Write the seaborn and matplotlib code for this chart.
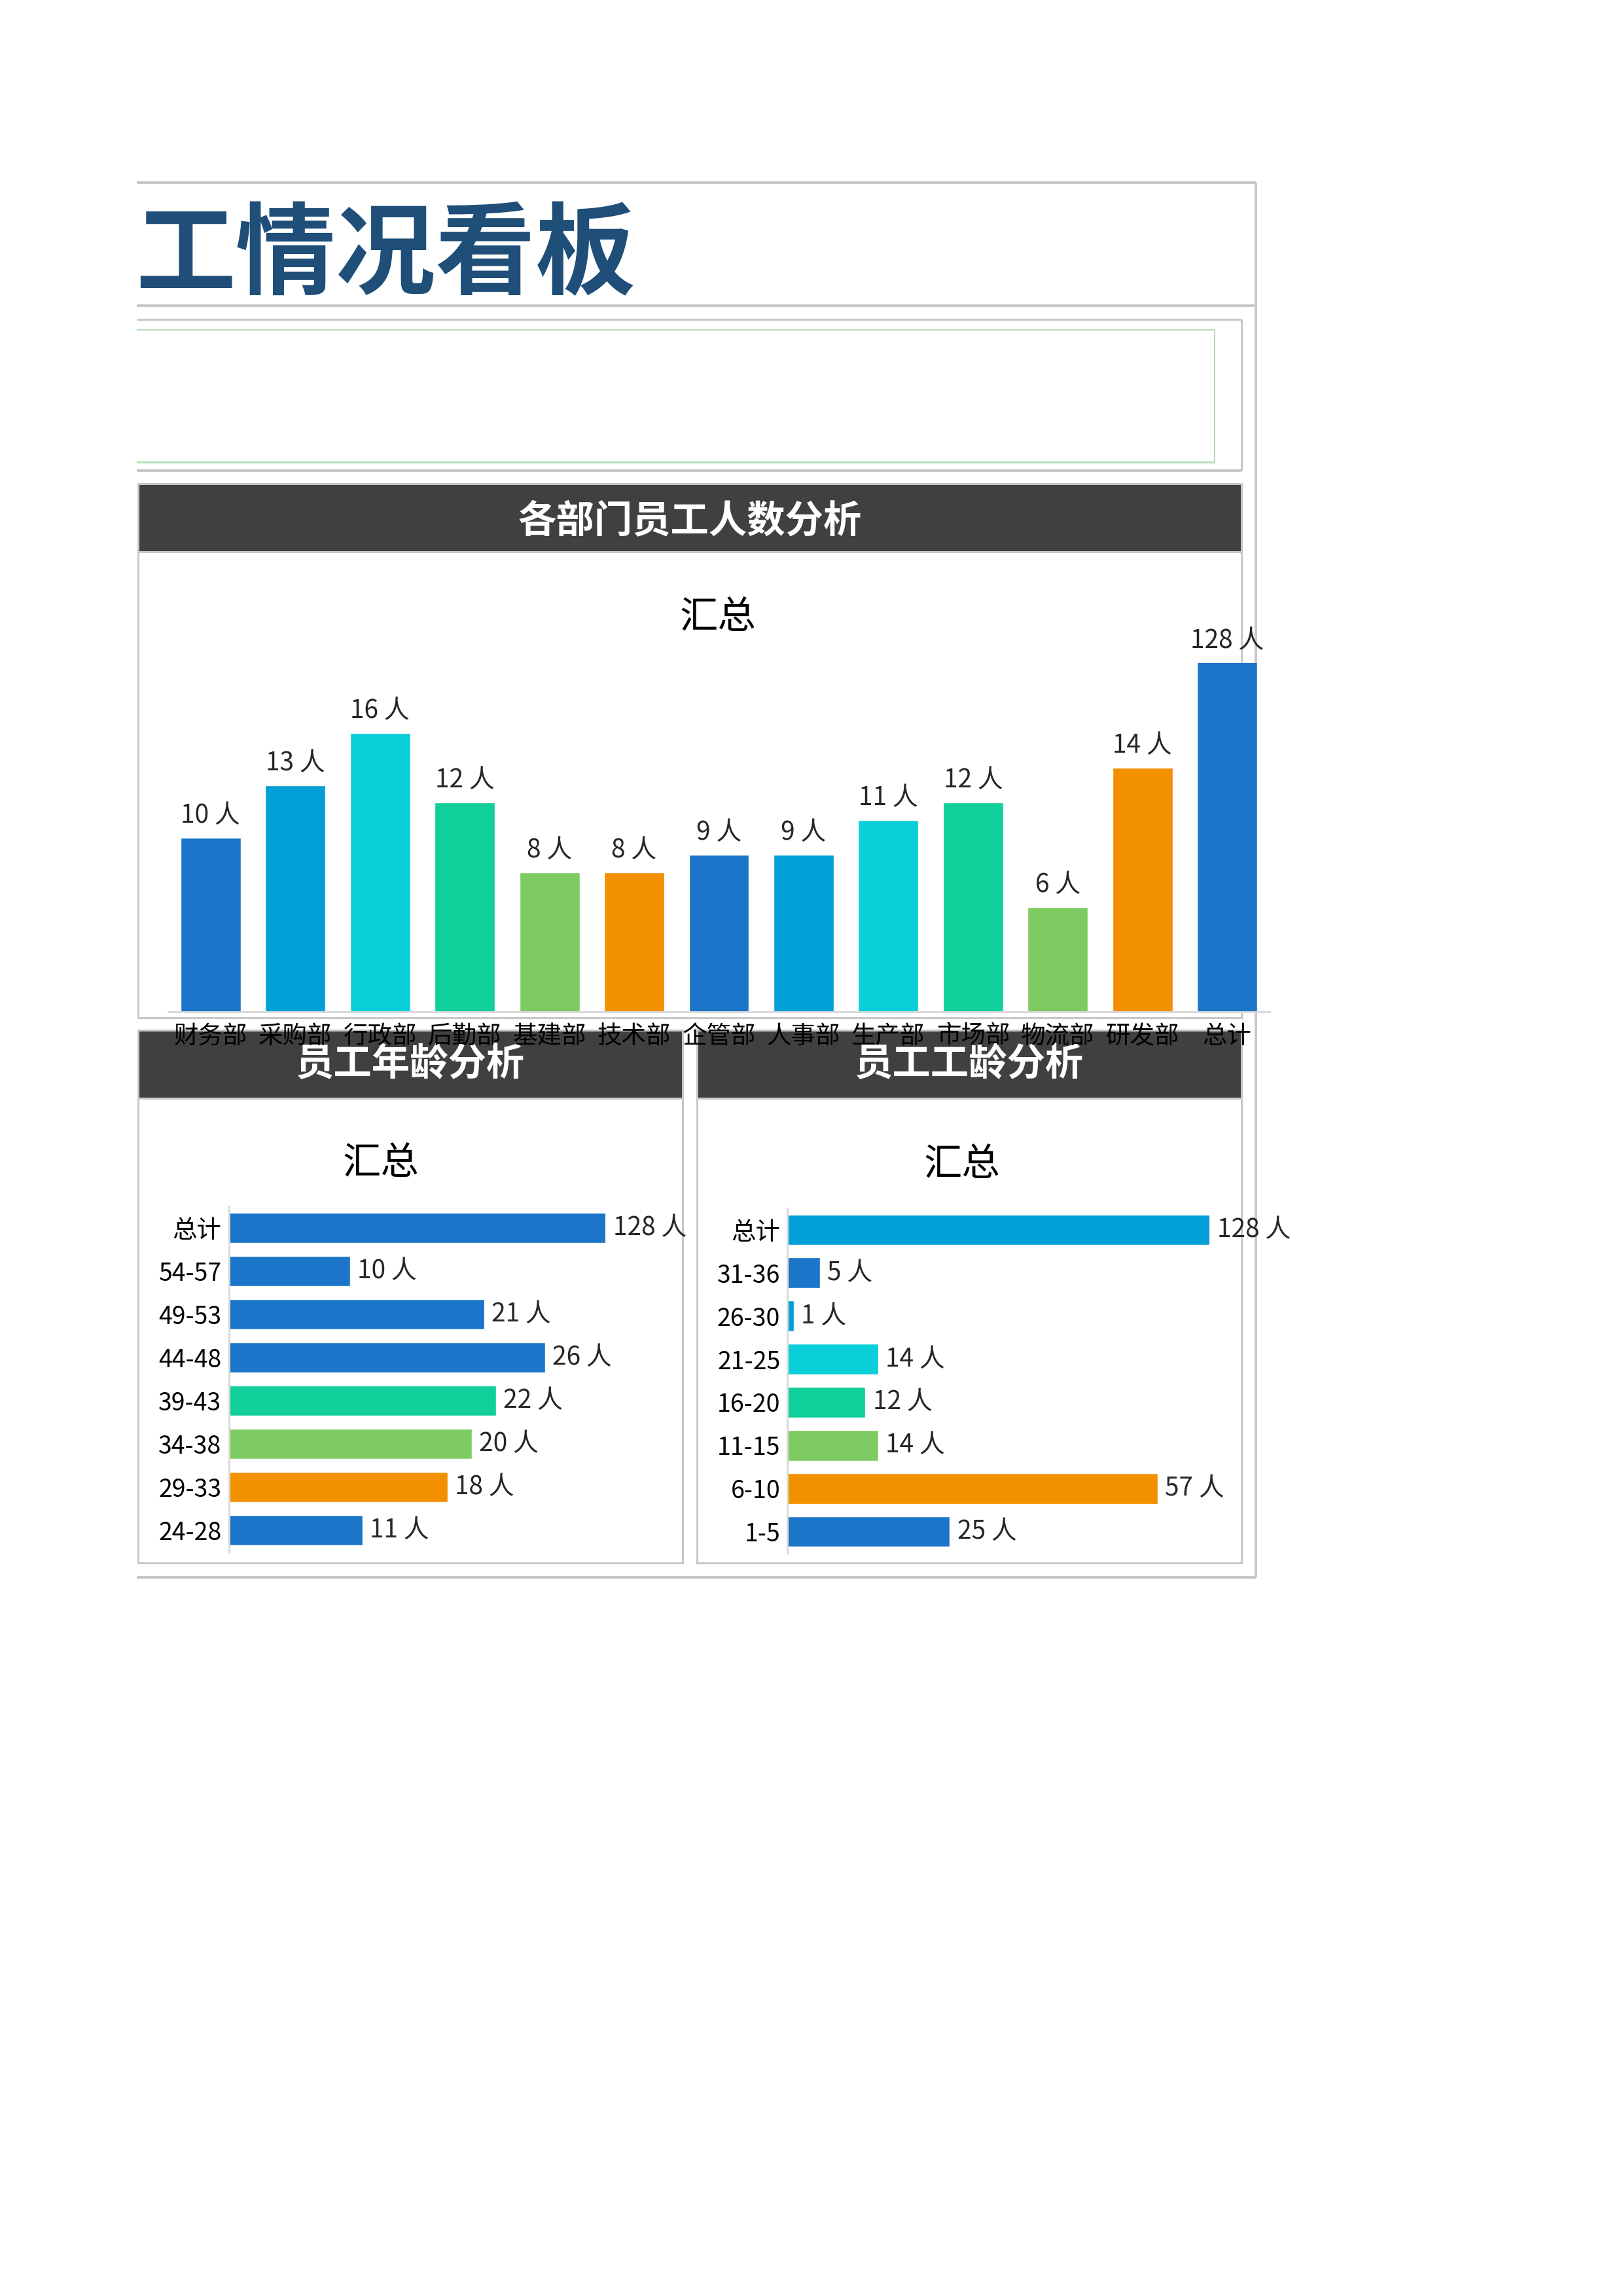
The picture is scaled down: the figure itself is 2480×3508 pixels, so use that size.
import matplotlib.pyplot as plt
import seaborn as sns
from matplotlib.patches import Rectangle

# data
dept_names = ["财务部", "采购部", "行政部", "后勤部", "基建部", "技术部", "企管部",
              "人事部", "生产部", "市场部", "物流部", "研发部", "总计"]
dept_counts = [10, 13, 16, 12, 8, 8, 9, 9, 11, 12, 6, 14, 128]

age_groups = ["总计", "54-57", "49-53", "44-48", "39-43", "34-38", "29-33", "24-28"]
age_counts = [128, 10, 21, 26, 22, 20, 18, 11]

tenure_groups = ["总计", "31-36", "26-30", "21-25", "16-20", "11-15", "6-10", "1-5"]
tenure_counts = [128, 5, 1, 14, 12, 14, 57, 25]

BLUE, SKY, CYAN, GREEN, LIME, ORANGE = "#1B75C9", "#029FD9", "#0BCFD8", "#10CF9B", "#7ECB62", "#F39000"
dept_colors = [BLUE, SKY, CYAN, GREEN, LIME, ORANGE, BLUE, SKY, CYAN, GREEN, LIME, ORANGE, BLUE]
age_colors = [BLUE, BLUE, BLUE, BLUE, GREEN, LIME, ORANGE, BLUE]
tenure_colors = [SKY, BLUE, SKY, CYAN, GREEN, LIME, ORANGE, BLUE]

sns.set_theme(style="white")
plt.rcParams['font.family'] = ['Noto Sans CJK SC', 'DejaVu Sans']

W, H = 2480, 3508
fig = plt.figure(figsize=(W / 100, H / 100), dpi=100)
bg = fig.add_axes([0, 0, 1, 1])
bg.set_xlim(0, W)
bg.set_ylim(H, 0)
bg.axis("off")

GRAY = "#C8C8C8"
DARK = "#404040"


def pt(v):
    return v * 0.72


def line(x0, y0, x1, y1, color=GRAY, w=4):
    bg.plot([x0, x1], [y0, y1], color=color, lw=pt(w), solid_capstyle="butt")


def box(x0, y0, x1, y1, fc="none", ec=GRAY, w=3):
    bg.add_patch(Rectangle((x0, y0), x1 - x0, y1 - y0, facecolor=fc, edgecolor=ec, lw=pt(w)))


def panel_ax(x0, y0, x1, y1):
    return fig.add_axes([x0 / W, 1 - y1 / H, (x1 - x0) / W, (y1 - y0) / H])


# frame and boxes
line(209, 279, 1919, 279)
line(1919, 279, 1919, 2410)
line(209, 2410, 1919, 2410)
line(209, 467, 1919, 467)
line(209, 488, 1897, 488, w=3)
line(1897, 488, 1897, 719, w=3)
line(209, 719, 1897, 719, w=4)
line(209, 504, 1856, 504, color="#B5DDB5", w=2)
line(1856, 504, 1856, 706, color="#B5DDB5", w=2)
line(209, 706, 1856, 706, color="#B5DDB5", w=3)

box(211, 739, 1897, 843, fc=DARK)
box(211, 843, 1897, 1555, fc="white")
box(211, 1574, 1043, 1678, fc=DARK)
box(1065, 1574, 1897, 1678, fc=DARK)
box(211, 1678, 1043, 2388, fc="white")
box(1065, 1678, 1897, 2388, fc="white")

bg.text(207, 392, "工情况看板", fontsize=110, fontweight="heavy", color="#1F4E79",
        ha="left", va="center")
for x, y, s in [(1054, 796, "各部门员工人数分析"), (627, 1626, "员工年龄分析"), (1481, 1626, "员工工龄分析")]:
    bg.text(x, y, s, fontsize=42, fontweight="bold", color="white", ha="center", va="center")
for x, y in [(1097, 943), (582, 1777), (1470, 1780)]:
    bg.text(x, y, "汇总", fontsize=42, color="black", ha="center", va="center")

# department column chart
ax1 = panel_ax(257, 1013, 1940, 1546)
sns.barplot(x=dept_names, y=dept_counts, hue=dept_names, palette=dict(zip(dept_names, dept_colors)),
            width=0.71, saturation=1, legend=False, ax=ax1)
ax1.set_ylim(0, 20)
ax1.set_xlim(-0.5, 12.5)
ax1.set_facecolor("none")
for s in ["left", "top", "right"]:
    ax1.spines[s].set_visible(False)
ax1.spines["bottom"].set_color("#D9D9D9")
ax1.spines["bottom"].set_linewidth(pt(3))
ax1.set_yticks([])
ax1.tick_params(axis="x", length=0, pad=13, labelsize=27, labelcolor="black")
ax1.set_xlabel("")
ax1.set_ylabel("")
for i, v in enumerate(dept_counts):
    ax1.annotate(f"{v} 人", xy=(i, min(v, 20)), xytext=(0, 10), textcoords="offset points",
                 ha="center", va="bottom", fontsize=28, annotation_clip=False)


def hbar(ax, groups, counts, colors, xmax):
    sns.barplot(x=counts, y=groups, hue=groups, palette=dict(zip(groups, colors)), orient="h",
                width=0.71, saturation=1, legend=False, ax=ax)
    ax.set_xlim(0, xmax)
    ax.set_facecolor("none")
    for s in ["bottom", "top", "right"]:
        ax.spines[s].set_visible(False)
    ax.spines["left"].set_color("#D9D9D9")
    ax.spines["left"].set_linewidth(pt(3))
    ax.set_xticks([])
    ax.tick_params(axis="y", length=0, pad=8, labelsize=27, labelcolor="black")
    ax.set_xlabel("")
    ax.set_ylabel("")
    for i, v in enumerate(counts):
        ax.annotate(f"{v} 人", xy=(min(v, xmax), i), xytext=(8, 0), textcoords="offset points",
                    ha="left", va="center", fontsize=28, annotation_clip=False)


ax2 = panel_ax(349.6, 1843, 925.4, 2371)
hbar(ax2, age_groups, age_counts, age_colors, 31)
ax3 = panel_ax(1203.4, 1846, 1848.4, 2373)
hbar(ax3, tenure_groups, tenure_counts, tenure_colors, 65)

fig.savefig("out.png", dpi=100)
